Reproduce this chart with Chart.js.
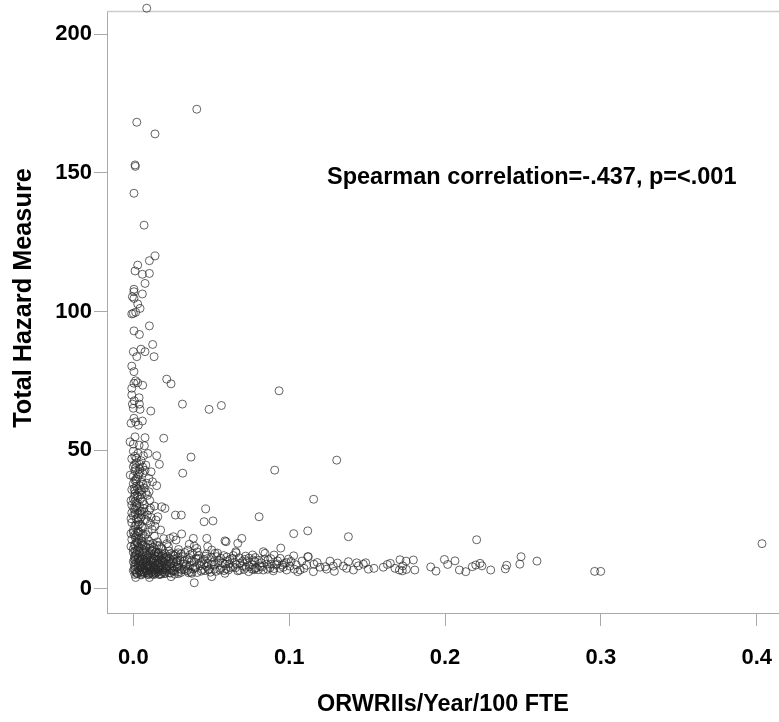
<!DOCTYPE html>
<html>
<head>
<meta charset="utf-8">
<script src="https://cdn.jsdelivr.net/npm/chart.js@4.4.1/dist/chart.umd.min.js"></script>
<style>
  html, body { margin: 0; padding: 0; background: #fff; }
  #wrap { width: 779px; height: 722px; }
</style>
</head>
<body>
<div id="wrap"><canvas id="chart1" width="779" height="722"></canvas></div>
<script>
// tick values
const xTicks = [0.0, 0.1, 0.2, 0.3, 0.4];
const yTicks = [0, 50, 100, 150, 200];

const xTitle = 'ORWRIIs/Year/100 FTE';
const yTitle = 'Total Hazard Measure';
const note = 'Spearman correlation=-.437, p=<.001';

// [ORWRIIs per year per 100 FTE, total hazard measure]
// high values, mostly along the left edge
const upperPoints = [
  [0.0086,209.3],[0.0407,172.9],[0.0022,168.2],[0.0139,164.0],[0.0011,152.8],[0.0013,152.3],
  [0.0004,142.6],[0.0069,131.1],[0.0139,120.0],[0.0103,118.3],[0.0028,116.7],[0.0011,114.6],
  [0.0058,113.4],[0.0103,113.7],[0.0075,110.1],[0.0004,108.0],[0.0004,107.1],[0.0058,106.3],
  [-0.0006,105.3],[0.0004,104.7],[0.0028,102.7],[0.0043,101.1],[0.0000,99.3],[-0.0010,99.1],
  [0.0015,99.7],[0.0103,94.8],[0.0004,93.0],[0.0039,91.7],[0.0124,88.1],[0.0000,85.5],
  [0.0049,86.4],[0.0022,83.7],[0.0075,85.5],[0.0133,83.7],[-0.0010,80.3],[0.0004,78.3],
  [0.0214,75.6],[0.0242,73.9],[0.0015,75.0],[0.0028,74.3],[0.0004,74.1],[0.0060,73.4],
  [-0.0010,72.3],[0.0935,71.4],[-0.0010,69.9],[0.0037,68.9],[0.0006,67.8],[-0.0006,66.6],
  [0.0039,66.6],[0.0000,65.1],[0.0043,64.7],[0.0112,64.1],[0.0315,66.6],[0.0486,64.7],
  [0.0565,66.1],[0.0004,61.5],[0.0015,60.2],[-0.0015,59.7],[0.0032,59.0],[0.0058,60.5],
  [0.0011,54.8],[0.0075,54.5],[0.0195,54.3],[-0.0021,53.0],[0.0000,52.2],[0.0037,51.8],
  [0.0071,51.6]
];

// scattered points in the middle of the plot
const midPoints = [
  [0.0907,42.8],[0.1305,46.4],[0.0370,47.5],[0.0317,41.7],[0.0150,48.0],[0.0167,44.9],
  [0.0094,48.8],[0.0114,42.2],[0.0150,37.2],[0.0464,28.8],[0.0454,24.2],[0.0511,24.5],
  [0.0270,26.6],[0.0308,26.6],[0.0807,26.0],[0.1029,19.9],[0.0946,14.7],[0.0391,2.2],
  [0.1157,32.3],[0.1119,20.9],[0.1380,18.8],[0.2203,17.7],[0.4034,16.3],[0.0101,35.0],
  [0.0123,38.6],[0.0203,29.0],[0.0182,29.6],[0.0157,26.0],[0.0139,22.6],[0.0103,28.4],
  [0.0310,19.8],[0.0257,18.8],[0.0235,18.2],[0.0274,17.6],[0.0225,15.2],[0.0385,18.2],
  [0.0391,15.4],[0.0359,16.1],[0.0407,14.6],[0.0471,18.2],[0.0477,15.2],[0.0503,14.0],
  [0.0524,12.8],[0.0588,17.3],[0.0595,17.0],[0.0696,18.2],[0.0670,16.4],[0.0657,13.4],
  [0.0766,12.2],[0.0834,13.4],[0.0015,4.1],[0.0103,4.1],[0.0242,4.4],[0.0375,5.6],
  [0.0503,4.4],[0.0588,5.6],[0.0845,12.8],[0.0903,12.2],[0.1029,11.9],[0.1119,11.6]
];

// dense column near zero
const columnPoints = [
  [0.000,49.6],[0.003,48.9],[0.001,47.8],[-0.001,46.9],[0.005,46.2],[0.002,45.5],[0.008,44.6],
  [0.000,44.0],[0.004,43.2],[0.001,42.5],[0.006,41.7],[-0.002,41.0],[0.003,40.4],[0.010,39.8],
  [0.001,39.1],[0.005,38.5],[0.000,37.9],[0.002,37.0],[0.007,36.4],[-0.001,35.8],[0.004,35.1],
  [0.001,34.3],[0.009,33.7],[0.003,33.0],[0.000,32.4],[0.006,31.6],[0.002,31.0],[-0.001,30.2],
  [0.004,29.7],[0.011,29.1],[0.001,28.5],[0.007,27.8],[0.003,27.2],[0.000,26.4],[0.005,25.9],
  [0.002,25.1],[0.009,24.5],[-0.001,23.9],[0.004,23.3],[0.001,22.6],[0.006,22.0],[0.012,21.5],
  [0.003,20.9],[0.000,20.3],[0.008,19.6],[0.002,19.1],[0.005,18.4],[-0.001,17.8],[0.010,17.3],
  [0.003,16.7],[0.001,16.1],[0.007,15.5],[0.004,14.9],[0.000,14.4],[0.012,14.0],
  [0.002,47.1],[0.006,43.9],[0.000,40.6],[0.004,37.2],[0.008,34.8],[0.001,31.4],[0.005,28.0],
  [0.003,24.2],[0.000,21.1],[0.009,26.6],[0.006,19.8],[0.002,17.1],[0.004,45.0],[0.001,35.5],
  [0.007,30.4],[0.003,22.9],[0.011,23.6],[0.005,16.3],[-0.001,27.4],[0.002,38.8],
  [0.0135,19.0],[0.0155,16.9],[0.0175,21.2],[0.0145,24.8],[0.0165,15.5],[0.0105,31.9],
  [0.0085,38.1],[0.0125,16.4],[0.0095,20.5],[0.0195,18.1],[0.0215,16.3],[0.0115,25.7],
  [0.0135,29.8],[0.0075,42.7],[0.0065,48.0],[0.0015,43.6],[0.0035,41.3],[0.0005,36.1],
  [0.0025,33.6],[-0.0015,31.8],[-0.0015,25.3],[-0.0015,19.9],[-0.0015,15.3],[0.0045,32.3],
  [0.0055,26.8],[0.0035,18.0],[0.0015,29.3],[0.0025,20.0],
  [0.0008,44.8],[0.0042,42.0],[0.0018,39.6],[0.0062,37.7],[0.0028,36.0],[0.0008,33.2],
  [0.0052,33.9],[0.0022,30.0],[0.0068,29.0],[0.0012,27.0],[0.0042,27.9],[0.0078,25.0],
  [0.0018,23.0],[0.0052,22.5],[0.0008,19.4],[0.0038,20.4],[0.0072,18.9],[0.0022,16.6],
  [0.0058,17.0],[0.0092,16.0],[0.0012,18.5],[0.0032,25.6],[0.0048,35.6],[0.0002,29.0]
];

// dense band along the bottom, x below 0.1
const bandPoints = [
  [0.000,13.2],[0.002,12.6],[0.004,13.5],[0.006,12.1],[0.008,13.0],[0.010,12.4],[0.012,13.6],
  [0.014,12.0],[0.016,12.8],[0.018,11.7],[0.020,12.9],[0.001,11.4],[0.003,10.8],[0.005,11.6],
  [0.007,10.5],[0.009,11.2],[0.011,10.4],[0.013,11.0],[0.015,10.2],[0.017,10.9],[0.019,10.1],
  [0.000,9.8],[0.002,9.2],[0.004,9.9],[0.006,8.8],[0.008,9.5],[0.010,8.7],[0.012,9.4],
  [0.014,8.6],[0.016,9.3],[0.018,8.5],[0.020,9.6],[0.001,8.1],[0.003,7.5],[0.005,8.2],
  [0.007,7.3],[0.009,7.9],[0.011,7.1],[0.013,7.8],[0.015,7.0],[0.017,7.7],[0.019,6.9],
  [0.000,6.6],[0.002,6.0],[0.004,6.7],[0.006,5.7],[0.008,6.4],[0.010,5.6],[0.012,6.3],
  [0.014,5.5],[0.016,6.2],[0.018,5.4],[0.020,6.1],[0.001,5.2],[0.005,5.0],[0.009,5.3],[0.013,5.1],
  [0.022,11.8],[0.024,9.1],[0.025,6.4],[0.027,12.5],[0.028,8.0],[0.030,10.3],[0.031,6.9],
  [0.033,13.1],[0.034,8.7],[0.036,11.0],[0.037,6.0],[0.039,9.6],[0.040,7.5],[0.042,12.0],
  [0.043,8.4],[0.045,10.6],[0.046,6.6],[0.048,9.2],[0.049,7.2],[0.050,11.4],[0.021,7.6],
  [0.023,5.8],[0.026,10.7],[0.029,5.5],[0.032,9.0],[0.035,7.0],[0.038,12.8],[0.041,5.9],
  [0.044,9.9],[0.047,8.0],[0.023,13.6],[0.029,14.2],[0.035,14.0],[0.041,13.3],[0.047,12.6],
  [0.052,8.6],[0.053,6.3],[0.055,10.2],[0.056,7.4],[0.058,12.0],[0.059,8.9],[0.061,6.8],
  [0.062,10.6],[0.064,7.9],[0.065,9.6],[0.067,6.5],[0.068,11.2],[0.070,8.3],[0.071,7.0],
  [0.073,9.8],[0.074,6.2],[0.076,8.7],[0.077,10.4],[0.079,7.6],[0.054,12.9],[0.060,11.5],
  [0.066,13.0],[0.072,11.8],[0.078,9.9],
  [0.0781,7.4],[0.0813,8.2],[0.0834,6.8],[0.0856,8.9],[0.0877,7.6],[0.0898,6.5],[0.0914,8.6],
  [0.0941,7.4],[0.0969,9.2],[0.0984,6.8],
  [0.0015,12.3],[0.0035,9.4],[0.0055,6.2],[0.0075,11.8],[0.0095,8.3],[0.0115,5.9],[0.0135,12.7],
  [0.0155,9.0],[0.0175,6.6],[0.0195,11.1],[0.0215,8.9],[0.0235,6.9],[0.0255,12.2],[0.0275,9.7],
  [0.0295,7.3],[0.0315,11.6],[0.0335,8.1],[0.0355,5.8],[0.0375,10.1],[0.0395,7.8],[0.0415,11.0],
  [0.0435,6.4],[0.0455,8.8],[0.0475,10.9],[0.0495,6.0],[0.0515,9.8],[0.0535,11.6],[0.0555,6.8],
  [0.0575,9.3],[0.0595,7.2],[0.0615,9.0],[0.0635,11.0],[0.0655,7.6],[0.0685,9.2],[0.0715,10.6],
  [0.0745,8.0],[0.0775,6.9],[0.0805,10.3],[0.0825,7.9],[0.0865,10.5],[0.0885,8.9],[0.0925,10.1],
  [0.0955,8.6],[0.0995,10.7],
  [0.0005,10.6],[0.0025,13.9],[0.0045,10.3],[0.0065,14.1],[0.0085,10.9],[0.0105,14.6],[0.0125,10.0],
  [0.0145,13.3],[0.0165,11.5],[0.0185,14.4],[0.0205,10.6],[0.0005,7.1],[0.0025,5.4],[0.0045,7.9],
  [0.0065,6.9],[0.0085,5.8],[0.0105,7.6],[0.0125,8.6],[0.0145,6.7],[0.0165,5.2],[0.0185,7.4],
  [0.0205,5.6],[0.0225,9.9],[0.0245,7.5],[0.0265,5.3],[0.0285,11.2],[0.0305,5.9],[0.0325,7.0],
  [0.0345,10.5],[0.0365,12.3],
  [0.0305,12.6],[0.0325,9.9],[0.0345,6.5],[0.0362,8.4],[0.0382,7.2],[0.0402,10.9],[0.0422,9.1],
  [0.0442,7.0],[0.0462,11.8],[0.0482,6.9],[0.0502,8.9],[0.0522,7.1],[0.0542,9.4],[0.0562,11.0],
  [0.0582,6.6],[0.0602,10.1],[0.0622,7.7],[0.0642,12.0],[0.0662,8.8],[0.0682,6.7],[0.0702,10.0],
  [0.0722,7.8],[0.0742,11.1],[0.0762,7.1],[0.0782,11.3],[0.0802,6.9],[0.0822,9.4],[0.0842,10.7],
  [0.0862,7.1],[0.0882,10.9],[0.0902,7.3],[0.0922,9.0],[0.0942,11.0],[0.0962,7.8],[0.0982,9.5]
];

// the darkest corner, x below 0.03
const cornerPoints = [
  [0.0008,15.6],[0.0032,15.1],[0.0058,15.8],[0.0082,15.2],[0.0108,16.0],[0.0128,15.0],[0.0152,15.7],
  [0.0178,14.9],[0.0012,13.7],[0.0038,12.9],[0.0062,13.4],[0.0088,12.2],[0.0112,12.9],[0.0138,11.8],
  [0.0162,13.1],[0.0188,12.4],[0.0212,11.5],[0.0238,12.7],[0.0262,11.9],[0.0288,13.0],
  [0.0008,11.9],[0.0032,11.2],[0.0058,10.7],[0.0082,10.1],[0.0108,11.6],[0.0132,10.6],[0.0158,11.9],
  [0.0182,10.4],[0.0208,11.2],[0.0232,10.8],[0.0258,9.6],[0.0282,10.2],
  [0.0012,10.3],[0.0038,9.9],[0.0062,9.5],[0.0088,8.9],[0.0112,9.9],[0.0138,9.2],[0.0162,8.4],
  [0.0188,9.9],[0.0212,8.2],[0.0238,8.8],[0.0262,8.1],[0.0288,9.0],
  [0.0008,8.7],[0.0032,8.5],[0.0058,7.6],[0.0082,8.2],[0.0108,8.4],[0.0132,7.2],[0.0158,7.8],
  [0.0182,8.1],[0.0208,7.3],[0.0232,7.9],[0.0258,6.7],[0.0282,7.7],
  [0.0012,6.9],[0.0038,6.4],[0.0062,6.1],[0.0088,7.0],[0.0112,6.6],[0.0138,6.0],[0.0162,7.1],
  [0.0188,6.3],[0.0212,6.8],[0.0238,5.7],[0.0262,6.4],[0.0288,6.1],
  [0.0022,5.7],[0.0048,5.3],[0.0072,5.9],[0.0098,5.1],[0.0122,5.4],[0.0148,5.8],[0.0172,5.2],
  [0.0198,5.5]
];

// thinning tail to the right
const tailPoints = [
  [0.1005,8.2],[0.1033,7.1],[0.1055,6.2],[0.1070,6.8],[0.1095,7.4],[0.1123,11.6],[0.1155,6.2],
  [0.1159,8.9],[0.1198,7.8],[0.1232,8.0],[0.1262,10.0],[0.1290,6.3],[0.1283,8.2],[0.1347,8.2],
  [0.1369,7.4],[0.1412,6.8],[0.1444,8.3],[0.1380,9.8],[0.1433,9.4],[0.1476,8.9],[0.1491,9.4],
  [0.1508,7.1],[0.1544,7.4],[0.1604,7.8],[0.1630,8.8],[0.1649,9.2],[0.1679,7.4],[0.1707,6.8],
  [0.1711,10.5],[0.1726,6.5],[0.1729,8.3],[0.1750,10.0],[0.1752,7.0],[0.1797,10.4],[0.1806,6.8],
  [0.1908,7.9],[0.1942,6.4],[0.1996,10.6],[0.2017,8.8],[0.2064,10.1],[0.2092,6.8],[0.2133,6.2],
  [0.2175,8.0],[0.2197,8.6],[0.2225,9.2],[0.2237,8.3],[0.2293,6.8],[0.2387,7.2],[0.2396,8.5],
  [0.2480,8.9],[0.2488,11.6],[0.2590,10.0],[0.2960,6.3],[0.2999,6.3],
  [0.1012,9.9],[0.1045,8.7],[0.1082,10.0],[0.1112,8.5],[0.1180,9.5],[0.1240,7.1],[0.1310,9.3]
];

const allPoints = [].concat(upperPoints, midPoints, columnPoints, bandPoints, cornerPoints, tailPoints)
  .map(p => ({x: p[0], y: p[1]}));

const FONT = '"Liberation Sans", Arial, Helvetica, sans-serif';
const frameColor = '#a9a9a9';

// top frame line, y axis title and the correlation note
const extras = {
  id: 'extras',
  beforeDatasetsDraw(chart) {
    const {ctx, chartArea} = chart;
    ctx.save();
    ctx.strokeStyle = '#cccccc';
    ctx.lineWidth = 1.5;
    ctx.beginPath();
    ctx.moveTo(chartArea.left, chartArea.top + 0.5);
    ctx.lineTo(chartArea.right, chartArea.top + 0.5);
    ctx.stroke();
    ctx.restore();
  },
  afterDraw(chart) {
    const ctx = chart.ctx;
    ctx.save();
    ctx.fillStyle = '#000';
    ctx.font = 'bold 23.5px ' + FONT;
    ctx.textBaseline = 'middle';
    ctx.textAlign = 'left';
    ctx.fillText(note, 327, 178);

    ctx.translate(24, 298);
    ctx.rotate(-Math.PI / 2);
    ctx.textAlign = 'center';
    ctx.font = 'bold 25.3px ' + FONT;
    ctx.fillText(yTitle, 0, 0);
    ctx.restore();
  }
};

var ctx = document.getElementById('chart1').getContext('2d');

var chart1 = new Chart(ctx, {
  type: 'scatter',
  data: {
    datasets: [{
      data: allPoints,
      pointRadius: 4,
      pointHoverRadius: 4,
      pointBorderWidth: 0.9,
      pointBorderColor: 'rgba(40, 40, 40, 0.8)',
      pointBackgroundColor: 'rgba(0, 0, 0, 0)',
      clip: false
    }]
  },
  options: {
    responsive: false,
    animation: false,
    layout: {
      autoPadding: false,
      padding: {top: 11, left: 0, right: 0, bottom: 0}
    },
    plugins: {
      legend: {display: false},
      tooltip: {enabled: false}
    },
    scales: {
      x: {
        type: 'linear',
        min: -0.0169,
        max: 0.4143,
        afterBuildTicks: (scale) => { scale.ticks = xTicks.map(v => ({value: v})); },
        afterFit: (scale) => { scale.height = 109; },
        ticks: {
          autoSkip: false,
          maxRotation: 0,
          padding: 4,
          color: '#000',
          font: {family: FONT, size: 22, weight: 'bold', lineHeight: 2.55},
          callback: (v) => v.toFixed(1)
        },
        grid: {
          drawOnChartArea: false,
          drawTicks: true,
          tickLength: 13,
          color: frameColor
        },
        border: {display: true, color: frameColor, width: 1},
        title: {
          display: true,
          text: xTitle,
          color: '#000',
          font: {family: FONT, size: 23.4, weight: 'bold'},
          padding: {top: 0, bottom: 3}
        }
      },
      y: {
        type: 'linear',
        min: -8.7,
        max: 208.3,
        afterBuildTicks: (scale) => { scale.ticks = yTicks.map(v => ({value: v})); },
        afterFit: (scale) => { scale.width = 107; },
        ticks: {
          autoSkip: false,
          padding: 2,
          color: '#000',
          font: {family: FONT, size: 22, weight: 'bold', lineHeight: 0.8},
          callback: (v) => v
        },
        grid: {
          drawOnChartArea: false,
          drawTicks: true,
          tickLength: 13,
          color: frameColor
        },
        border: {display: true, color: frameColor, width: 1}
      }
    }
  },
  plugins: [extras]
});
</script>
</body>
</html>
